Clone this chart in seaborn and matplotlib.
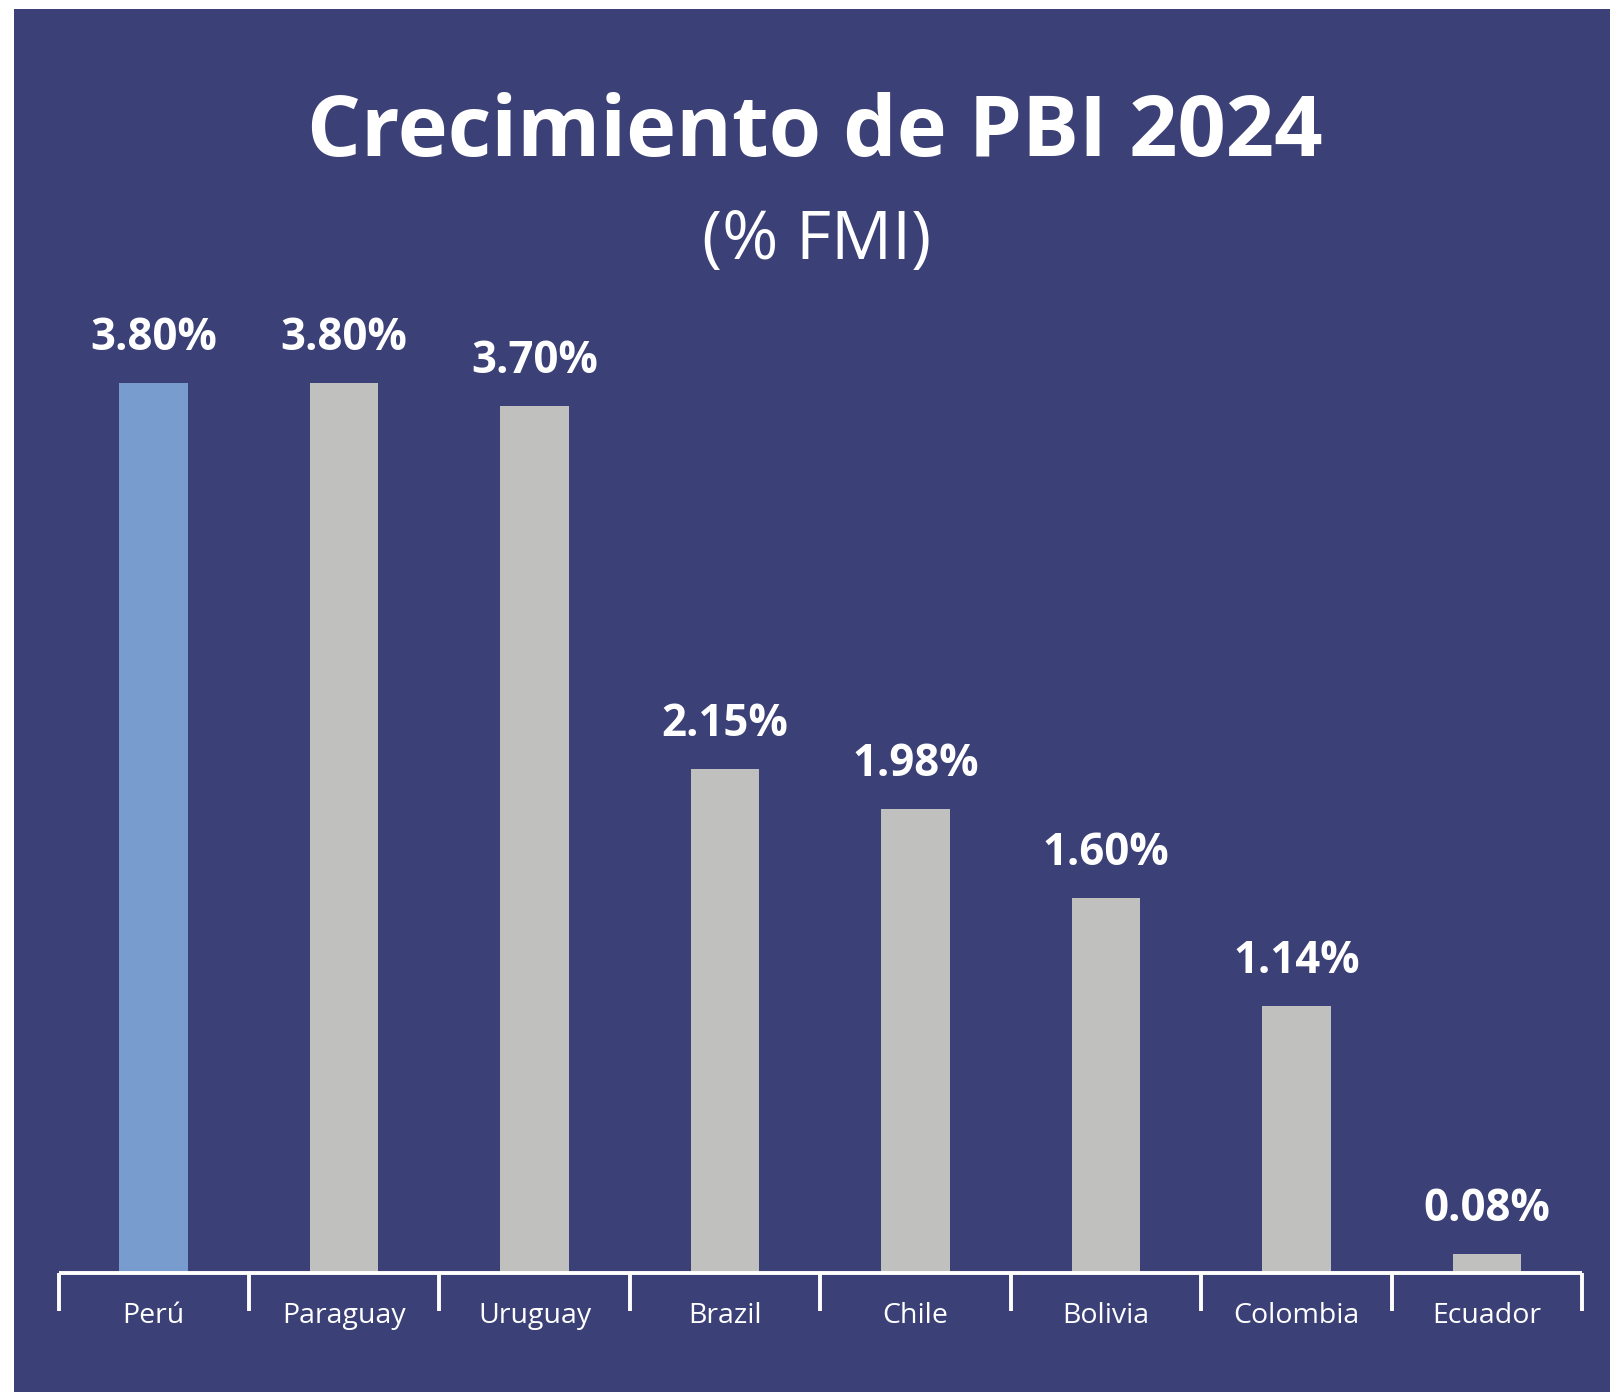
import matplotlib
matplotlib.use("Agg")
import matplotlib.pyplot as plt
import seaborn as sns
import pandas as pd
from matplotlib.patches import Rectangle

countries = ["Perú", "Paraguay", "Uruguay", "Brazil", "Chile", "Bolivia", "Colombia", "Ecuador"]
growth = [3.80, 3.80, 3.70, 2.15, 1.98, 1.60, 1.14, 0.08]
value_labels = ["3.80%", "3.80%", "3.70%", "2.15%", "1.98%", "1.60%", "1.14%", "0.08%"]
title = "Crecimiento de PBI 2024"
subtitle = "(% FMI)"

NAVY = "#3B4077"
BLUE = "#799CCE"
GREY = "#C0C0BE"

sns.set_theme(style="white")
plt.rcParams["font.family"] = ["Open Sans", "DejaVu Sans"]

df = pd.DataFrame({"country": countries, "growth": growth})
palette = {c: (BLUE if i == 0 else GREY) for i, c in enumerate(countries)}

W, H = 1610, 1392
fig = plt.figure(figsize=(W / 100, H / 100), dpi=100)
fig.patch.set_facecolor("white")
fig.patches.append(Rectangle((14 / W, 0), 1 - 14 / W, 1 - 9 / H, transform=fig.transFigure,
                             facecolor=NAVY, edgecolor="none", zorder=-10))

ax = fig.add_axes([58.5 / W, (H - 1273) / H, (1582 - 58.5) / W, 983 / H])
ax.set_facecolor("none")
sns.barplot(data=df, x="country", y="growth", hue="country", palette=palette,
            width=0.36, legend=False, ax=ax, saturation=1, edgecolor="none", linewidth=0)
ax.set_xlim(-0.5, len(countries) - 0.5)
ax.set_ylim(0, 4.197)

for i, (v, lab) in enumerate(zip(growth, value_labels)):
    ax.annotate(lab, (i, v), xytext=(0, 16), textcoords="offset points",
                ha="center", va="bottom", color="white", fontsize=31.5, fontweight="bold")

for s in ["top", "left", "right"]:
    ax.spines[s].set_visible(False)
ax.spines["bottom"].set_color("white")
ax.spines["bottom"].set_linewidth(2.8)
ax.spines["bottom"].set_capstyle("butt")
ax.set_yticks([])
ax.set_xlabel("")
ax.set_ylabel("")
ax.set_xticks(range(len(countries)))
ax.set_xticklabels(countries, color="white", fontsize=20.5)
ax.tick_params(axis="x", which="major", length=0, pad=21, bottom=True)
ax.set_xticks([i - 0.5 for i in range(len(countries) + 1)], minor=True)
ax.tick_params(axis="x", which="minor", direction="out", length=27, width=2.8,
               color="white", bottom=True)

fig.text(0.5 + 10 / W, 1 - 134 / H, title, ha="center", va="center", color="white",
         fontsize=61, fontweight="bold")
fig.text(0.5 + 12 / W, 1 - 241 / H, subtitle, ha="center", va="center", color="white",
         fontsize=49, fontweight="normal")

fig.savefig("out.png", dpi=100, facecolor=fig.get_facecolor())
